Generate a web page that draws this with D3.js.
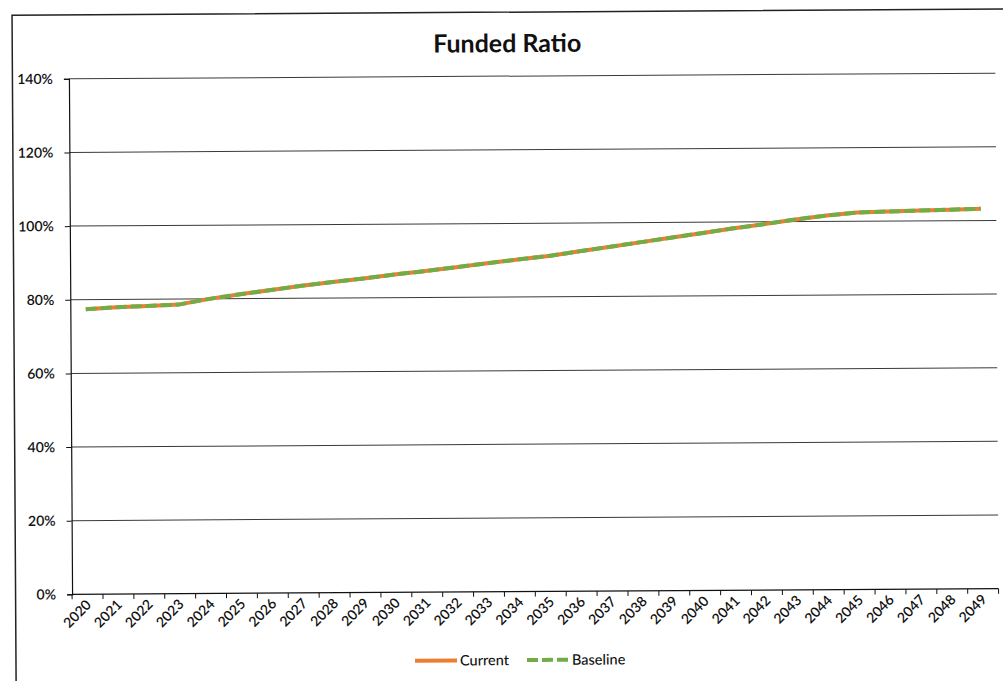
<!DOCTYPE html>
<html>
<head>
<meta charset="utf-8">
<script src="https://cdn.jsdelivr.net/npm/d3@7"></script>
<style>
  body { margin: 0; background: #fff; }
  svg { display: block; }
  text { font-family: Lato, "Open Sans", sans-serif; fill: #111; }
</style>
</head>
<body>
<svg id="chart" width="1003" height="681"></svg>
<script>
// Funded ratio projection, 2020–2049
const years = ["2020","2021","2022","2023","2024","2025","2026","2027","2028","2029",
               "2030","2031","2032","2033","2034","2035","2036","2037","2038","2039",
               "2040","2041","2042","2043","2044","2045","2046","2047","2048","2049"];
const current  = [0.774,0.779,0.782,0.785,0.800,0.812,0.823,0.834,0.844,0.853,
                  0.863,0.872,0.882,0.892,0.902,0.911,0.923,0.935,0.947,0.959,
                  0.971,0.983,0.994,1.006,1.016,1.024,1.026,1.028,1.030,1.032];
const baseline = [0.774,0.779,0.782,0.785,0.800,0.812,0.823,0.834,0.844,0.853,
                  0.863,0.872,0.882,0.892,0.902,0.911,0.923,0.935,0.947,0.959,
                  0.971,0.983,0.994,1.006,1.016,1.024,1.026,1.028,1.030,1.032];
const yTicks = [0, 0.2, 0.4, 0.6, 0.8, 1.0, 1.2, 1.4];
const seriesNames = ["Current", "Baseline"];
const seriesColors = ["#ED7D31", "#70AD47"];

const svg = d3.select("#chart");
const g = svg.append("g").attr("transform", "rotate(-0.35 530 335)");

// outer chart frame
g.append("rect")
  .attr("x", 14).attr("y", 12).attr("width", 1100).attr("height", 800)
  .attr("fill", "none").attr("stroke", "#222").attr("stroke-width", 1.5);

const m = { left: 70.5, right: 997, top: 76, bottom: 591.5 };
const x = d3.scaleBand().domain(years).range([m.left, m.right]).padding(0);
const y = d3.scaleLinear().domain([0, 1.4]).range([m.bottom, m.top]);
const bw = x.bandwidth();

// title
g.append("text")
  .attr("x", 509).attr("y", 52)
  .attr("text-anchor", "middle")
  .style("font-size", "25px").style("font-weight", "700")
  .text("Funded Ratio");

// horizontal gridlines
g.append("g").selectAll("line")
  .data(yTicks.slice(1))
  .join("line")
  .attr("x1", m.left).attr("x2", m.right)
  .attr("y1", d => y(d)).attr("y2", d => y(d))
  .attr("stroke", "#3a3a3a").attr("stroke-width", 1);

// y axis
const yAxis = d3.axisLeft(y)
  .tickValues(yTicks)
  .tickFormat(d3.format(".0%"))
  .tickSize(5)
  .tickPadding(11);
const yg = g.append("g").attr("transform", `translate(${m.left},0)`).call(yAxis);
yg.select(".domain").attr("stroke", "#111").attr("stroke-width", 1.2);
yg.selectAll(".tick line").attr("stroke", "#111");
yg.selectAll(".tick text")
  .style("font-size", "14px").style("font-weight", "600")
  .style("font-family", "Lato, sans-serif").attr("fill", "#111");

// x axis: baseline plus tick marks between categories
const xg = g.append("g");
xg.append("line")
  .attr("x1", m.left).attr("x2", m.right)
  .attr("y1", y(0)).attr("y2", y(0))
  .attr("stroke", "#111").attr("stroke-width", 1.2);
const bounds = years.map(d => x(d)).concat([x.range()[1]]);
xg.selectAll("line.tk").data(bounds).join("line")
  .attr("class", "tk")
  .attr("x1", d => d).attr("x2", d => d)
  .attr("y1", y(0)).attr("y2", y(0) + 5)
  .attr("stroke", "#111");
xg.selectAll("text").data(years).join("text")
  .attr("transform", d => `translate(${x(d) + bw / 2 + 1},${y(0) + 8}) rotate(-45)`)
  .attr("text-anchor", "end")
  .attr("dy", "0.35em")
  .style("font-size", "14px").style("font-weight", "600")
  .text(d => d);

// series lines
const line = d3.line()
  .x((d, i) => x(years[i]) + bw / 2)
  .y(d => y(d));

g.append("path").datum(current)
  .attr("d", line)
  .attr("fill", "none")
  .attr("stroke", seriesColors[0])
  .attr("stroke-width", 4)
  .attr("stroke-linejoin", "round");

g.append("path").datum(baseline)
  .attr("d", line)
  .attr("fill", "none")
  .attr("stroke", seriesColors[1])
  .attr("stroke-width", 4)
  .attr("stroke-dasharray", "11,4");

// legend
const legendY = 660;
const legendItems = [
  { name: seriesNames[0], color: seriesColors[0], x: 413, dash: null },
  { name: seriesNames[1], color: seriesColors[1], x: 525, dash: "11,4" }
];
const lg = g.append("g").selectAll("g").data(legendItems).join("g")
  .attr("transform", d => `translate(${d.x},${legendY})`);
lg.append("line")
  .attr("x1", 0).attr("x2", 42).attr("y1", 0).attr("y2", 0)
  .attr("stroke", d => d.color).attr("stroke-width", 4)
  .attr("stroke-dasharray", d => d.dash);
lg.append("text")
  .attr("x", 45).attr("y", 0).attr("dy", "0.35em")
  .style("font-size", "14.5px").style("font-weight", "500")
  .text(d => d.name);
</script>
</body>
</html>
